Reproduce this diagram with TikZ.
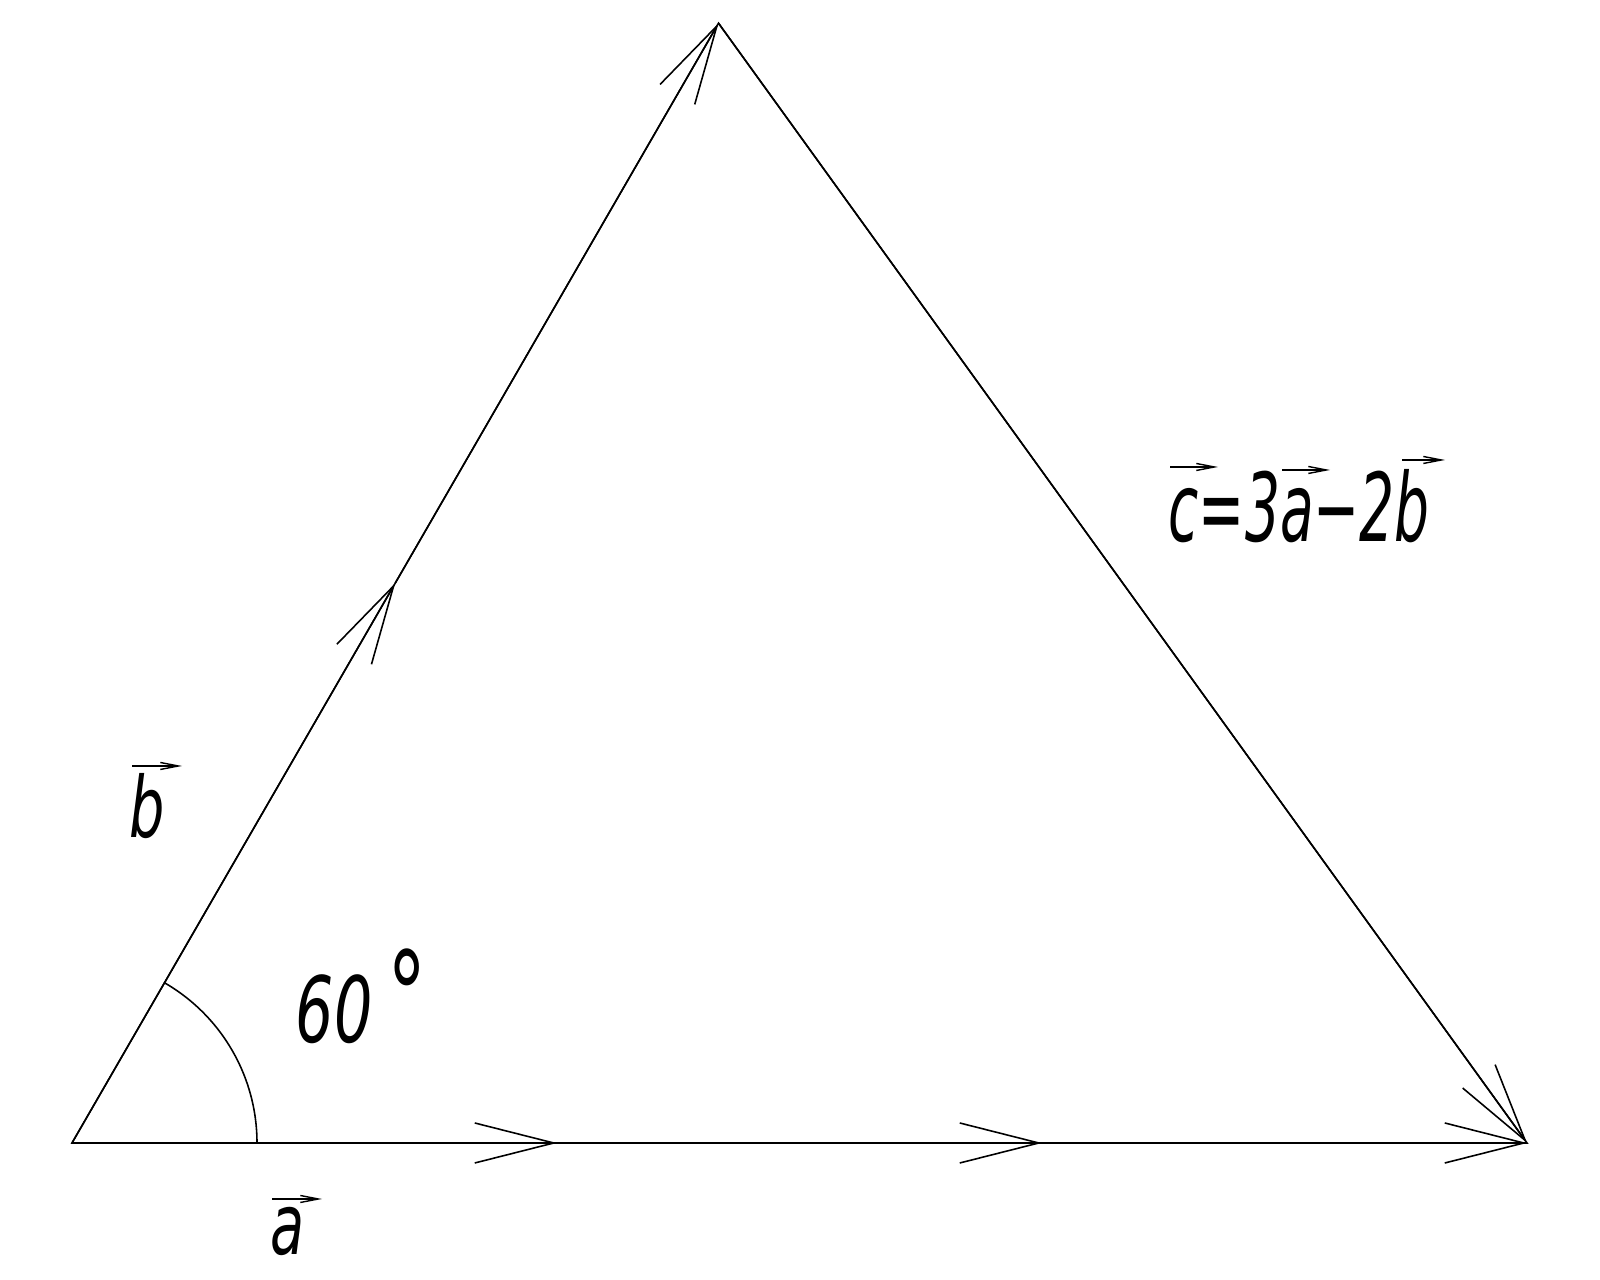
\documentclass[tikz,border=0pt]{standalone}
\usepackage{fontspec}
\usetikzlibrary{arrows.meta,calc}
\newfontfamily\cadfont[FakeStretch=0.66]{DejaVu Sans}
\newfontfamily\cadnarrow[FakeStretch=0.58]{DejaVu Sans}

\begin{document}
\begin{tikzpicture}[
    side/.style={line width=0.45pt},
    vecarrow/.style={side,-{Straight Barb[length=7.9mm,width=4mm]}},
    overarrow/.style={line width=0.4pt,-{Straight Barb[length=1.8mm,width=0.7mm]}},
    vlabel/.style={font=\cadfont\itshape\fontsize{24}{28}\selectfont,inner sep=0pt}
  ]
  \useasboundingbox (0,0) rectangle (16,12.8);

  \coordinate (A) at (0.72,1.37);
  \coordinate (B) at (15.27,1.37);
  \coordinate (C) at ($(A)+(60:12.93)$);
  \coordinate (A1) at ($(A)!1/3!(B)$);
  \coordinate (A2) at ($(A)!2/3!(B)$);
  \coordinate (B1) at ($(A)!0.5!(C)$);

  % the triangle itself
  \draw[side] (A) -- (B) -- (C) -- cycle;
  % 3a along the base
  \draw[vecarrow] (A) -- (A1);
  \draw[vecarrow] (A1) -- (A2);
  \draw[vecarrow] (A2) -- (B);
  % 2b up the left side
  \draw[vecarrow] (A) -- (B1);
  \draw[vecarrow] (B1) -- (C);
  % c
  \draw[vecarrow] (C) -- (B);
  % angle mark
  \draw[side] ($(A)+(1.85,0)$) arc (0:60:1.85);

  \node[vlabel,anchor=base] (la) at (2.88,0.25) {a};
  \node[vlabel,anchor=base] (lb) at (1.47,4.42) {b};
  \node[vlabel,font=\cadfont\itshape\fontsize{26}{30}\selectfont,anchor=base west] (angle) at (2.95,2.37) {60\,\raisebox{0.1ex}{\fontsize{34}{36}\selectfont °}};
  \node[vlabel,font=\cadnarrow\itshape\fontsize{27}{32}\selectfont,anchor=base west] (lc) at (11.68,7.38) {c=3a−2b};

  \draw[overarrow] (2.72,0.81) -- (3.22,0.81);
  \draw[overarrow] (1.32,5.14) -- (1.82,5.14);
  \draw[overarrow] (11.70,8.13) -- (12.18,8.13);
  \draw[overarrow] (12.82,8.10) -- (13.30,8.10);
  \draw[overarrow] (14.02,8.20) -- (14.45,8.20);
\end{tikzpicture}
\end{document}
